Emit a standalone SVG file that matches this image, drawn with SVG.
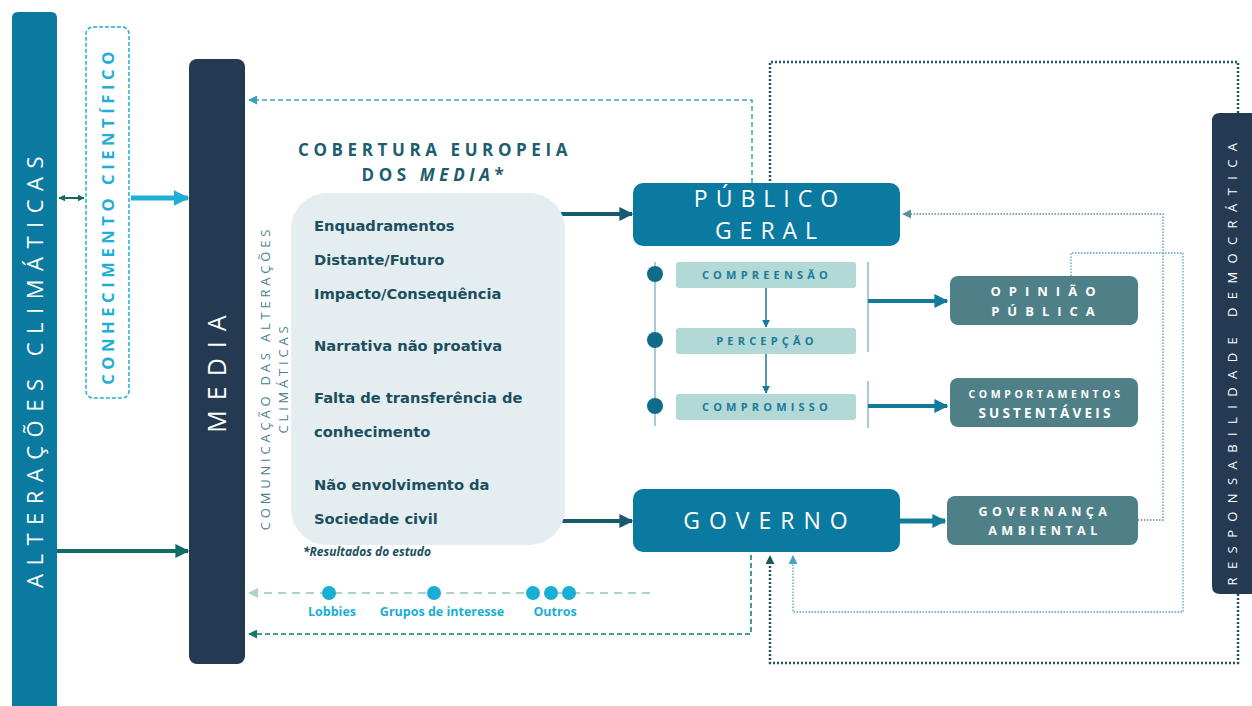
<svg xmlns="http://www.w3.org/2000/svg" width="1252" height="706" viewBox="0 0 1252 706">
<defs>
<style>
.os{font-family:"Open Sans","DejaVu Sans",sans-serif}
.wt{fill:#ffffff}
.item{font-family:"DejaVu Sans","Open Sans",sans-serif;font-weight:bold;font-size:14.7px;fill:#1b4f5f}
.step{fill:#b3d9d6}
.steptxt{font-family:"Open Sans","DejaVu Sans",sans-serif;font-weight:bold;font-size:11px;fill:#1a7a9a;letter-spacing:4.2px}
.outbox{fill:#4f8087}
.outtxt{font-family:"Open Sans","DejaVu Sans",sans-serif;font-weight:bold;fill:#ffffff}
.lbl{font-family:"Open Sans","DejaVu Sans",sans-serif;font-weight:bold;font-size:12.5px;fill:#1aaed6}
.dot{fill:#1aaed6}
.tl{fill:#0f6b8a}
</style>
<marker id="mDk" viewBox="0 0 10 10" refX="9" refY="5" markerWidth="14" markerHeight="14" markerUnits="userSpaceOnUse" orient="auto"><path d="M0,0 L10,5 L0,10z" fill="#0f6b63"/></marker>
<marker id="mLb" viewBox="0 0 10 10" refX="9" refY="5" markerWidth="16" markerHeight="16" markerUnits="userSpaceOnUse" orient="auto"><path d="M0,0 L10,5 L0,10z" fill="#21aed6"/></marker>
<marker id="mNv" viewBox="0 0 10 10" refX="9" refY="5" markerWidth="14" markerHeight="14" markerUnits="userSpaceOnUse" orient="auto"><path d="M0,0 L10,5 L0,10z" fill="#155a6e"/></marker>
<marker id="mBl" viewBox="0 0 10 10" refX="9" refY="5" markerWidth="14" markerHeight="14" markerUnits="userSpaceOnUse" orient="auto"><path d="M0,0 L10,5 L0,10z" fill="#137a9c"/></marker>
<marker id="mSm" viewBox="0 0 10 10" refX="9" refY="5" markerWidth="8" markerHeight="8" markerUnits="userSpaceOnUse" orient="auto"><path d="M0,0 L10,5 L0,10z" fill="#1a7a9a"/></marker>
<marker id="mDbl" viewBox="0 0 10 10" refX="9" refY="5" markerWidth="7" markerHeight="7" markerUnits="userSpaceOnUse" orient="auto-start-reverse"><path d="M0,0 L10,5 L0,10z" fill="#0f6b5e"/></marker>
<marker id="mDash" viewBox="0 0 10 10" refX="9" refY="5" markerWidth="9" markerHeight="9" markerUnits="userSpaceOnUse" orient="auto"><path d="M0,0 L10,5 L0,10z" fill="#3aa0c0"/></marker>
<marker id="mDashG" viewBox="0 0 10 10" refX="9" refY="5" markerWidth="9" markerHeight="9" markerUnits="userSpaceOnUse" orient="auto"><path d="M0,0 L10,5 L0,10z" fill="#137a6a"/></marker>
<marker id="mPale" viewBox="0 0 10 10" refX="9" refY="5" markerWidth="10" markerHeight="10" markerUnits="userSpaceOnUse" orient="auto"><path d="M0,0 L10,5 L0,10z" fill="#a8d4cc"/></marker>
<marker id="mGrey" viewBox="0 0 10 10" refX="9" refY="5" markerWidth="9" markerHeight="9" markerUnits="userSpaceOnUse" orient="auto"><path d="M0,0 L10,5 L0,10z" fill="#5a9098"/></marker>
<marker id="mLtb" viewBox="0 0 10 10" refX="9" refY="5" markerWidth="9" markerHeight="9" markerUnits="userSpaceOnUse" orient="auto"><path d="M0,0 L10,5 L0,10z" fill="#4aa3c5"/></marker>
<marker id="mDot" viewBox="0 0 10 10" refX="9" refY="5" markerWidth="9" markerHeight="9" markerUnits="userSpaceOnUse" orient="auto"><path d="M0,0 L10,5 L0,10z" fill="#1a5560"/></marker>
</defs>

<rect width="1252" height="706" fill="#ffffff"/>

<!-- connectors -->
<g id="connectors" fill="none">
  <line x1="59" y1="198" x2="84" y2="198" stroke="#0f6b5e" stroke-width="2" marker-start="url(#mDbl)" marker-end="url(#mDbl)"/>
  <line x1="131" y1="198" x2="188" y2="198" stroke="#21aed6" stroke-width="5" marker-end="url(#mLb)"/>
  <line x1="57" y1="551" x2="188" y2="551" stroke="#0f6b63" stroke-width="4" marker-end="url(#mDk)"/>
  <line x1="561" y1="214" x2="632" y2="214" stroke="#155a6e" stroke-width="4" marker-end="url(#mNv)"/>
  <line x1="561" y1="521" x2="632" y2="521" stroke="#155a6e" stroke-width="4" marker-end="url(#mNv)"/>
  <!-- timeline -->
  <line x1="655" y1="262" x2="655" y2="426" stroke="#6aacbd" stroke-width="1.2"/>
  <line x1="766" y1="288" x2="766" y2="327" stroke="#1a7a9a" stroke-width="1.5" marker-end="url(#mSm)"/>
  <line x1="766" y1="354" x2="766" y2="393" stroke="#1a7a9a" stroke-width="1.5" marker-end="url(#mSm)"/>
  <line x1="868" y1="262" x2="868" y2="352" stroke="#6aacbd" stroke-width="1.2"/>
  <line x1="868" y1="381" x2="868" y2="428" stroke="#6aacbd" stroke-width="1.2"/>
  <line x1="868" y1="301" x2="947" y2="301" stroke="#137a9c" stroke-width="4" marker-end="url(#mBl)"/>
  <line x1="868" y1="406" x2="947" y2="406" stroke="#137a9c" stroke-width="4" marker-end="url(#mBl)"/>
  <line x1="900" y1="521" x2="945" y2="521" stroke="#137a9c" stroke-width="5" marker-end="url(#mBl)"/>
  <!-- dashed feedback to media -->
  <polyline points="752,183 752,100 249,100" stroke="#3aa0c0" stroke-width="1.5" stroke-dasharray="5,3" marker-end="url(#mDash)"/>
  <polyline points="751,555 751,634 249,634" stroke="#137a6a" stroke-width="1.5" stroke-dasharray="5,3" marker-end="url(#mDashG)"/>
  <line x1="650" y1="593" x2="249" y2="593" stroke="#a8d4cc" stroke-width="2" stroke-dasharray="8,6" marker-end="url(#mPale)"/>
  <!-- light dotted loops -->
  <polyline points="1138,520 1163,520 1163,214 903,214" stroke="#5a9098" stroke-width="1.3" stroke-dasharray="1.5,1.5" marker-end="url(#mGrey)"/>
  <polyline points="1071,276 1071,253 1183,253 1183,612 793,612 793,556" stroke="#4aa3c5" stroke-width="1.3" stroke-dasharray="1.5,1.5" marker-end="url(#mLtb)"/>
  <!-- dark dotted loop -->
  <polyline points="1238,113 1238,62 770,62 770,183" stroke="#1a5560" stroke-width="2.5" stroke-dasharray="2,2"/>
  <polyline points="1238,594 1238,663 770,663 770,556" stroke="#1a5560" stroke-width="2.5" stroke-dasharray="2,2" marker-end="url(#mDot)"/>
</g>

<g id="alteracoes">
  <path d="M12,706 L12,18 Q12,12 18,12 L51,12 Q57,12 57,18 L57,706 Z" fill="#0a7aa0"/>
  <text class="os wt" transform="translate(43,368) rotate(-90)" text-anchor="middle" font-size="22" letter-spacing="8.5">ALTERAÇÕES CLIMÁTICAS</text>
</g>

<g id="conhecimento">
  <rect x="86" y="27" width="43" height="371" rx="7" fill="none" stroke="#21aed6" stroke-width="1.5" stroke-dasharray="4,2"/>
  <text class="os" transform="translate(114,216) rotate(-90)" text-anchor="middle" font-size="16.5" font-weight="bold" letter-spacing="4.6" fill="#21aed6">CONHECIMENTO CIENTÍFICO</text>
</g>

<g id="media">
  <rect x="189" y="59" width="56" height="605" rx="8" fill="#233a52"/>
  <text class="os wt" transform="translate(226,369) rotate(-90)" text-anchor="middle" font-size="25" letter-spacing="10">MEDIA</text>
</g>

<g id="comunicacao">
  <text class="os" transform="translate(270,378) rotate(-90)" text-anchor="middle" font-size="13" letter-spacing="3.8" fill="#4a7f8f">COMUNICAÇÃO DAS ALTERAÇÕES</text>
  <text class="os" transform="translate(288,378) rotate(-90)" text-anchor="middle" font-size="13" letter-spacing="3.8" fill="#4a7f8f">CLIMÁTICAS</text>
</g>

<g id="cobertura">
  <text class="os" x="435" y="156" text-anchor="middle" font-size="17" font-weight="bold" letter-spacing="4.6" fill="#1b5e6e">COBERTURA EUROPEIA</text>
  <text class="os" x="435" y="181" text-anchor="middle" font-size="17" font-weight="bold" letter-spacing="4.6" fill="#1b5e6e">DOS <tspan font-style="italic">MEDIA</tspan>*</text>
  <rect x="291" y="193" width="274" height="352" rx="36" fill="#e4edf0"/>
  <text class="item" x="314" y="231">Enquadramentos</text>
  <text class="item" x="314" y="265">Distante/Futuro</text>
  <text class="item" x="314" y="299">Impacto/Consequência</text>
  <text class="item" x="314" y="351">Narrativa não proativa</text>
  <text class="item" x="314" y="403">Falta de transferência de</text>
  <text class="item" x="314" y="437">conhecimento</text>
  <text class="item" x="314" y="490">Não envolvimento da</text>
  <text class="item" x="314" y="524">Sociedade civil</text>
  <text class="os" x="303" y="556" font-size="12" font-weight="bold" font-style="italic" fill="#1b4f5f">*Resultados do estudo</text>
</g>

<g id="publico-geral">
  <rect x="633" y="183" width="267" height="63" rx="10" fill="#0a7aa0"/>
  <text class="os wt" x="770" y="207" text-anchor="middle" font-size="23" letter-spacing="8">PÚBLICO</text>
  <text class="os wt" x="770" y="239" text-anchor="middle" font-size="23" letter-spacing="8">GERAL</text>
</g>

<g id="compreensao">
  <circle class="tl" cx="655" cy="274" r="8"/>
  <rect class="step" x="676" y="262" width="180" height="26" rx="3"/>
  <text class="steptxt" x="767" y="279" text-anchor="middle">COMPREENSÃO</text>
</g>
<g id="percepcao">
  <circle class="tl" cx="655" cy="340" r="8"/>
  <rect class="step" x="676" y="328" width="180" height="26" rx="3"/>
  <text class="steptxt" x="767" y="345" text-anchor="middle">PERCEPÇÃO</text>
</g>
<g id="compromisso">
  <circle class="tl" cx="655" cy="406" r="8"/>
  <rect class="step" x="676" y="394" width="180" height="26" rx="3"/>
  <text class="steptxt" x="767" y="411" text-anchor="middle">COMPROMISSO</text>
</g>

<g id="opiniao-publica">
  <rect class="outbox" x="950" y="276" width="188" height="49" rx="8"/>
  <text class="outtxt" x="1047" y="296" text-anchor="middle" font-size="13" letter-spacing="8">OPINIÃO</text>
  <text class="outtxt" x="1047" y="316" text-anchor="middle" font-size="13" letter-spacing="8">PÚBLICA</text>
</g>

<g id="comportamentos">
  <rect class="outbox" x="950" y="378" width="188" height="49" rx="8"/>
  <text class="outtxt" x="1046" y="398" text-anchor="middle" font-size="10.5" letter-spacing="3.6">COMPORTAMENTOS</text>
  <text class="outtxt" x="1046" y="418" text-anchor="middle" font-size="13.5" letter-spacing="3.2">SUSTENTÁVEIS</text>
</g>

<g id="governo">
  <rect x="633" y="489" width="267" height="63" rx="10" fill="#0a7aa0"/>
  <text class="os wt" x="770" y="529" text-anchor="middle" font-size="23" letter-spacing="9">GOVERNO</text>
</g>

<g id="governanca">
  <rect class="outbox" x="947" y="496" width="191" height="49" rx="8"/>
  <text class="outtxt" x="1045" y="516" text-anchor="middle" font-size="12.5" letter-spacing="4.5">GOVERNANÇA</text>
  <text class="outtxt" x="1045" y="535" text-anchor="middle" font-size="12.5" letter-spacing="4.5">AMBIENTAL</text>
</g>

<g id="responsabilidade">
  <path d="M1252,113 L1220,113 Q1212,113 1212,121 L1212,586 Q1212,594 1220,594 L1252,594 Z" fill="#233a52"/>
  <text class="os wt" transform="translate(1237,360) rotate(-90)" text-anchor="middle" font-size="13" letter-spacing="8.4">RESPONSABILIDADE DEMOCRÁTICA</text>
</g>

<g id="atores">
  <circle class="dot" cx="329" cy="593" r="7"/>
  <circle class="dot" cx="434" cy="593" r="7"/>
  <circle class="dot" cx="533" cy="593" r="7"/>
  <circle class="dot" cx="551" cy="593" r="7"/>
  <circle class="dot" cx="569" cy="593" r="7"/>
  <text class="lbl" x="332" y="616" text-anchor="middle">Lobbies</text>
  <text class="lbl" x="442" y="616" text-anchor="middle">Grupos de interesse</text>
  <text class="lbl" x="555" y="616" text-anchor="middle">Outros</text>
</g>
</svg>
